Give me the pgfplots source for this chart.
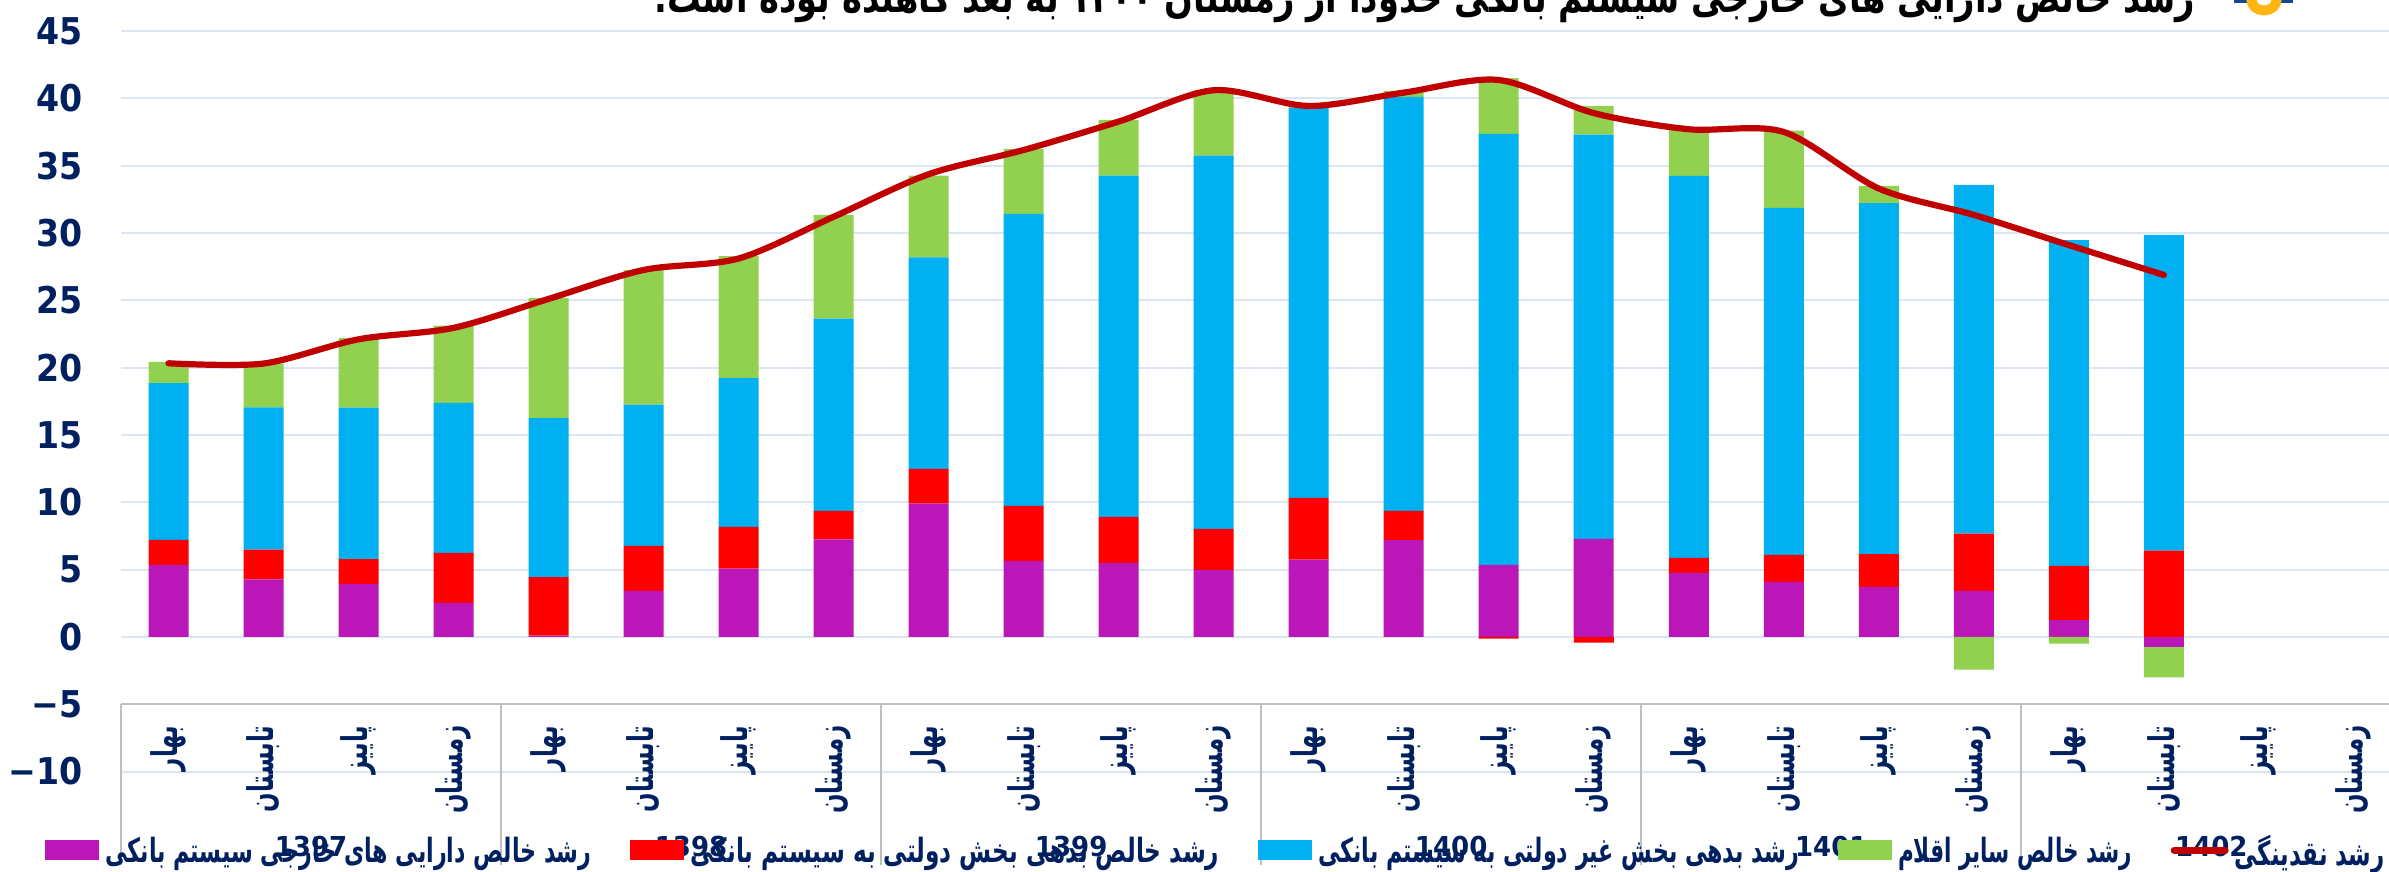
\documentclass[border=0pt]{standalone}
\usepackage{pgfplots}
\usepackage{pgfplotstable}
\usepackage{fontspec}
\usepackage{graphicx}
\pgfplotsset{compat=1.18}
\TeXXeTstate=1
\setmainfont{DejaVu Sans}
\newfontfamily\arfont[Script=Arabic]{DejaVu Sans}
\newfontfamily\arbold[Script=Arabic]{DejaVu Sans Bold}
\newfontfamily\numfont[FakeStretch=0.9]{DejaVu Sans Bold}
\newfontfamily\yearfont[FakeStretch=0.95]{DejaVu Sans Bold}
\definecolor{navy}{HTML}{002060}
\definecolor{cpur}{HTML}{BA16B8}
\definecolor{cred}{HTML}{FF0000}
\definecolor{cblu}{HTML}{00B0F0}
\definecolor{cgrn}{HTML}{92D050}
\definecolor{cline}{HTML}{C00000}
\definecolor{cgrid}{HTML}{DCE6F2}
\definecolor{cgold}{HTML}{FFB714}
\definecolor{clogo}{HTML}{144696}

% positive part of the stacks and the liquidity growth line
\pgfplotstableread{
i pur red blu grn m
0 5.35 1.85 11.64 1.58 20.32
1 4.28 2.21 10.56 3.25 20.30
2 3.94 1.83 11.26 5.15 22.10
3 2.52 3.72 11.14 5.74 22.95
4 0.10 4.33 11.81 8.91 25.10
5 3.42 3.34 10.49 9.98 27.25
6 5.07 3.10 11.04 9.06 28.10
7 7.25 2.11 14.28 7.70 31.20
8 9.90 2.58 15.71 6.07 34.36
9 5.64 4.09 21.68 4.83 36.16
10 5.50 3.41 25.35 4.13 38.27
11 4.98 3.04 27.72 4.86 40.60
12 5.74 4.58 28.98 0.10 39.43
13 7.18 2.18 30.74 0.45 40.42
14 5.35 0 32.00 4.15 41.36
15 7.28 0 30.02 2.12 38.90
16 4.75 1.12 28.37 3.53 37.70
17 4.08 2.01 25.78 5.73 37.50
18 3.71 2.43 26.07 1.26 33.30
19 3.42 4.25 25.89 0 31.34
20 1.24 4.03 24.20 0 29.10
21 0 6.41 23.44 0 26.88
}\postab

% parts below zero, stacked downward on their own
\pgfplotstableread{
i pur red grn
14 0 -0.12 0
15 0 -0.42 0
19 0 0 -2.43
20 0 0 -0.50
21 -0.72 0 -2.28
}\negtab

\pgfplotsset{
  base/.style={
    scale only axis, width=226.8mm, height=87.2mm,
    xmin=-0.5, xmax=23.37, ymin=-17.46, ymax=47.3,
  },
  stackbars/.style={ybar stacked, bar width=4mm},
  swatch/.style={legend image code/.code={\fill[#1] (0,-0.95mm) rectangle (5.3mm,0.95mm);}},
}
\tikzset{yearlab/.style={font=\fontsize{7.8}{10}\yearfont, text=navy}}
\newcommand{\sea}[1]{\scalebox{1.55}[1]{\rotatebox{90}{\fontsize{6.5}{10}\arbold\color{navy}\beginR #1\endR}}}
\newcommand{\Sa}{\sea{بهار}}
\newcommand{\Sb}{\sea{تابستان}}
\newcommand{\Sc}{\sea{پاییز}}
\newcommand{\Sd}{\sea{زمستان}}
\newcommand{\legtxt}[2]{\raisebox{-0.5mm}{\resizebox{#1}{\height}{\fontsize{9.5}{10}\arbold\color{navy}#2}}}

\begin{document}
\begin{tikzpicture}
\path[use as bounding box] (-12.1mm,0) rectangle (226.8mm,87.2mm);
\clip (-12.1mm,0) rectangle (226.8mm,87.2mm);

\begin{axis}[base, stackbars,
  axis line style={draw=none}, major tick length=0pt,
  ymajorgrids, grid style={cgrid, line width=0.2mm},
  ytick={-10,-5,0,5,10,15,20,25,30,35,40,45},
  yticklabels={−10,−5,0,5,10,15,20,25,30,35,40,45},
  yticklabel style={font=\fontsize{10.5}{12}\numfont, text=navy, anchor=east, inner sep=0pt, xshift=-3.8mm},
  xtick={0,...,23},
  xticklabels={\Sa,\Sb,\Sc,\Sd,\Sa,\Sb,\Sc,\Sd,\Sa,\Sb,\Sc,\Sd,\Sa,\Sb,\Sc,\Sd,\Sa,\Sb,\Sc,\Sd,\Sa,\Sb,\Sc,\Sd},
  xticklabel style={anchor=north, inner sep=0pt, yshift=14.7mm},
  clip=false,
]
\draw[black!25, line width=0.2mm] (axis cs:-0.5,-5) -- (axis cs:23.37,-5);
\pgfplotsinvokeforeach{-0.5,3.5,7.5,11.5,15.5,19.5}{
  \draw[black!25, line width=0.2mm] (axis cs:#1,-5) -- (axis cs:#1,-16.94);
}
\addplot[fill=cpur, draw=none] table[x=i,y=pur] {\postab};
\addplot[fill=cred, draw=none] table[x=i,y=red] {\postab};
\addplot[fill=cblu, draw=none] table[x=i,y=blu] {\postab};
\addplot[fill=cgrn, draw=none] table[x=i,y=grn] {\postab};
\end{axis}

\begin{axis}[base, stackbars, hide axis, clip=false]
\addplot[fill=cpur, draw=none] table[x=i,y=pur] {\negtab};
\addplot[fill=cred, draw=none] table[x=i,y=red] {\negtab};
\addplot[fill=cgrn, draw=none] table[x=i,y=grn] {\negtab};
\end{axis}

\begin{axis}[base, hide axis, clip=false,
  legend columns=5,
  legend style={at={(-0.0335,0.025)}, anchor=west, draw=none, fill=none, inner sep=0pt, outer sep=0pt,
    cells={anchor=west}, nodes={inner sep=0pt},
    /tikz/every odd column/.append style={column sep=0.6mm},
    /tikz/every even column/.append style={column sep=3.85mm}},
]
\node[yearlab] at (axis cs:1.5,-15.6) {1397};
\node[yearlab] at (axis cs:5.5,-15.6) {1398};
\node[yearlab] at (axis cs:9.5,-15.6) {1399};
\node[yearlab] at (axis cs:13.5,-15.6) {1400};
\node[yearlab] at (axis cs:17.5,-15.6) {1401};
\node[yearlab] at (axis cs:21.5,-15.6) {1402};
\addlegendimage{swatch=cpur}
\addlegendentry{\legtxt{48.6mm}{\beginR رشد خالص دارایی های خارجی سیستم بانکی\endR}}
\addlegendimage{swatch=cred}
\addlegendentry{\legtxt{52.9mm}{\beginR رشد خالص بدهی بخش دولتی به سیستم بانکی\endR}}
\addlegendimage{swatch=cblu}
\addlegendentry{\legtxt{48.1mm}{\beginR رشد بدهی بخش غیر دولتی به سیستم بانکی\endR}}
\addlegendimage{swatch=cgrn}
\addlegendentry{\legtxt{23.4mm}{\beginR رشد خالص سایر اقلام\endR}}
\addplot[cline, line width=0.62mm, line cap=round, smooth, tension=0.5,
  legend image code/.code={\draw[cline, line width=0.7mm, line cap=round] (0.3mm,0) -- (5.4mm,0);}]
  table[x=i,y=m] {\postab};
\addlegendentry{\legtxt{15mm}{\beginR رشد نقدینگی\endR}}
\end{axis}

% cropped title and logo at the top edge
\node[anchor=base east, inner sep=0pt, text=black] at (207.5mm,85.9mm)
  {\resizebox{154.1mm}{\height}{\fontsize{12}{14}\arbold\beginR رشد خالص دارایی های خارجی سیستم بانکی حدوداً از زمستان \beginL ۱۴۰۰\endL{} به بعد کاهنده بوده است.\endR}};
\fill[clogo] (211.3mm,86.9mm) rectangle (212.6mm,87.2mm);
\fill[clogo] (216mm,86.9mm) rectangle (217.2mm,87.2mm);
\draw[cgold, line width=1mm] (214.3mm,87.2mm) ellipse (1.25mm and 1.05mm);
\end{tikzpicture}
\end{document}
